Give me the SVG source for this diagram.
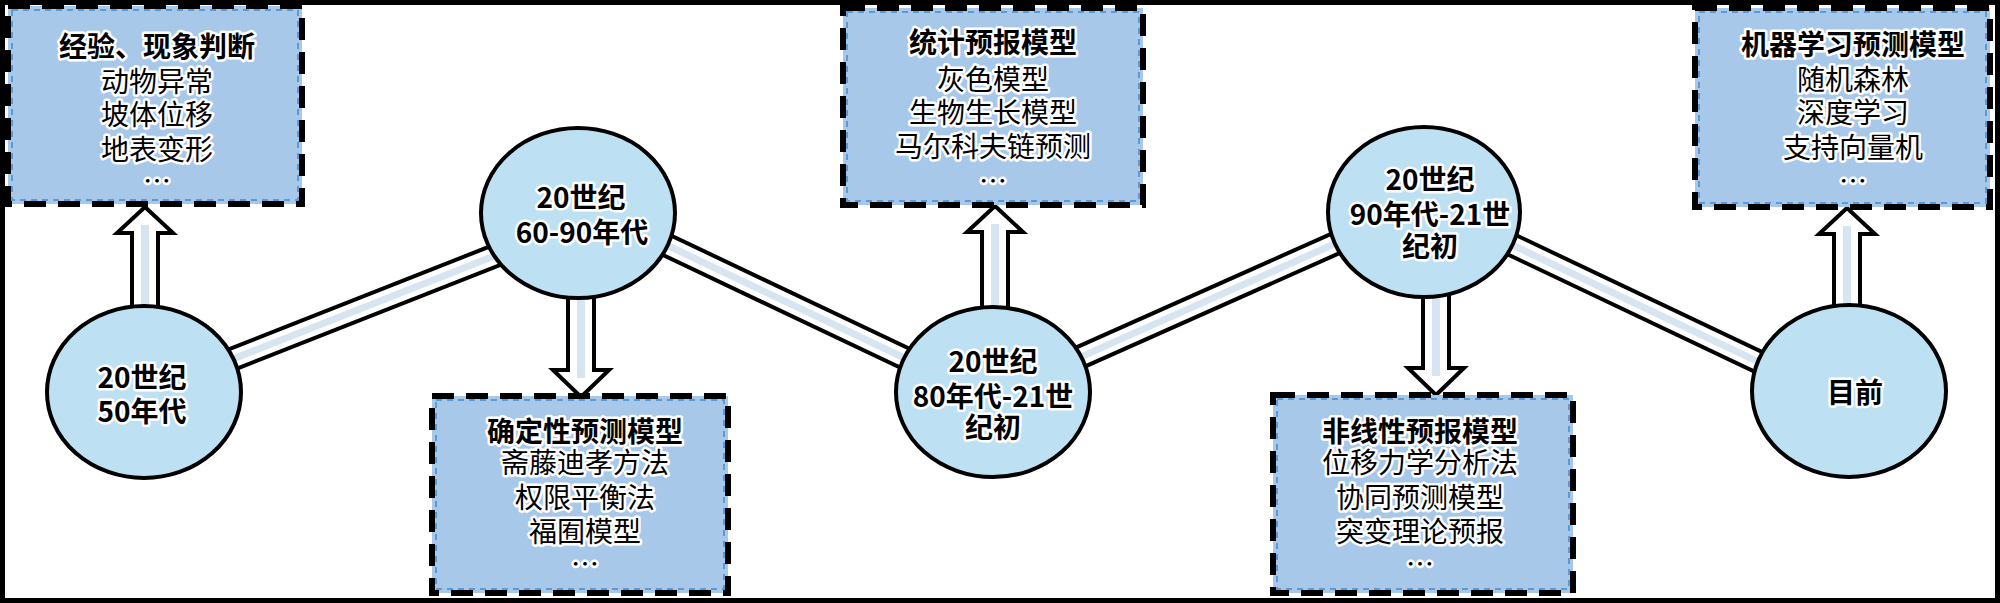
<svg xmlns="http://www.w3.org/2000/svg" width="2000" height="603" viewBox="0 0 2000 603">
<style>
.frame{fill:#fff;stroke:#000;stroke-width:5}
.boxo{fill:#a8c8e9;stroke:#000;stroke-width:6;stroke-dasharray:22 12}
.boxi{fill:none;stroke:#5b9bd5;stroke-width:2;stroke-dasharray:6 5}
.circ{fill:#bee0f3;stroke:#000;stroke-width:4}
.bo{stroke:#000;stroke-width:25;stroke-linecap:butt}
.bw{stroke:#fff;stroke-width:17;stroke-linecap:butt}
.bb{stroke:#d7e5f3;stroke-width:7;stroke-linecap:butt}
.arr{fill:#fff;stroke:#000;stroke-width:4;stroke-linejoin:miter}
.strip{fill:#d7e5f3}
text{font-family:"Noto Sans CJK SC","Noto Sans",sans-serif;font-size:28px;fill:#000;text-anchor:middle;stroke:#fff;stroke-width:5;stroke-linejoin:round;paint-order:stroke}
.t{font-weight:bold}
.c{font-weight:bold}
</style>
<rect class="frame" x="2.5" y="2.5" width="1995" height="598"/>
<g id="connectors">
<line class="bo" x1="144" y1="394" x2="578" y2="223"/>
<line class="bw" x1="144" y1="394" x2="578" y2="223"/>
<line class="bb" x1="144" y1="394" x2="578" y2="223"/>
<line class="bo" x1="578" y1="203" x2="993" y2="400"/>
<line class="bw" x1="578" y1="203" x2="993" y2="400"/>
<line class="bb" x1="578" y1="203" x2="993" y2="400"/>
<line class="bo" x1="993" y1="396" x2="1424" y2="204"/>
<line class="bw" x1="993" y1="396" x2="1424" y2="204"/>
<line class="bb" x1="993" y1="396" x2="1424" y2="204"/>
<line class="bo" x1="1424" y1="203" x2="1849" y2="405"/>
<line class="bw" x1="1424" y1="203" x2="1849" y2="405"/>
<line class="bb" x1="1424" y1="203" x2="1849" y2="405"/>
<g id="arrow1">
<polygon class="arr" points="145,207 173,233 158,233 158,312 132,312 132,233 117,233"/>
<rect class="strip" x="141" y="225" width="8" height="85"/>
</g>
<g id="arrow2">
<polygon class="arr" points="581,397 609,370 594,370 594,288 568,288 568,370 553,370"/>
<rect class="strip" x="577" y="290" width="8" height="88"/>
</g>
<g id="arrow3">
<polygon class="arr" points="995,206 1023,232 1008,232 1008,312 982,312 982,232 967,232"/>
<rect class="strip" x="991" y="224" width="8" height="86"/>
</g>
<g id="arrow4">
<polygon class="arr" points="1436,395 1464,368 1449,368 1449,288 1423,288 1423,368 1408,368"/>
<rect class="strip" x="1432" y="290" width="8" height="86"/>
</g>
<g id="arrow5">
<polygon class="arr" points="1847,208 1875,234 1860,234 1860,312 1834,312 1834,234 1819,234"/>
<rect class="strip" x="1843" y="226" width="8" height="84"/>
</g>
</g>
<g id="c1">
<ellipse class="circ" cx="144" cy="392" rx="97" ry="86"/>
<text class="c" x="142" y="388">20世纪</text>
<text class="c" x="142" y="422">50年代</text>
</g>
<g id="c2">
<ellipse class="circ" cx="578" cy="213" rx="97" ry="85"/>
<text class="c" x="581" y="208">20世纪</text>
<text class="c" x="582" y="243">60-90年代</text>
</g>
<g id="c3">
<ellipse class="circ" cx="993" cy="392" rx="97" ry="85"/>
<text class="c" x="993" y="372">20世纪</text>
<text class="c" x="993" y="407">80年代-21世</text>
<text class="c" x="993" y="438">纪初</text>
</g>
<g id="c4">
<ellipse class="circ" cx="1424" cy="212" rx="96" ry="85"/>
<text class="c" x="1430" y="190">20世纪</text>
<text class="c" x="1430" y="225">90年代-21世</text>
<text class="c" x="1430" y="257">纪初</text>
</g>
<g id="c5">
<ellipse class="circ" cx="1849" cy="391" rx="97" ry="86"/>
<text class="c" x="1855" y="403">目前</text>
</g>
<g id="b1">
<rect class="boxo" x="8" y="6" width="294" height="198"/>
<rect class="boxi" x="12" y="10" width="286" height="190"/>
<text class="t" x="157" y="57">经验、现象判断</text>
<text x="157" y="92">动物异常</text>
<text x="157" y="125">坡体位移</text>
<text x="157" y="160">地表变形</text>
<text x="157" y="192">…</text>
</g>
<g id="b2">
<rect class="boxo" x="432" y="396" width="296" height="197"/>
<rect class="boxi" x="436" y="400" width="288" height="189"/>
<text class="t" x="585" y="442">确定性预测模型</text>
<text x="585" y="473">斋藤迪孝方法</text>
<text x="585" y="508">权限平衡法</text>
<text x="585" y="542">福囿模型</text>
<text x="585" y="575">…</text>
</g>
<g id="b3">
<rect class="boxo" x="843" y="8" width="300" height="197"/>
<rect class="boxi" x="847" y="12" width="292" height="189"/>
<text class="t" x="993" y="53">统计预报模型</text>
<text x="993" y="90">灰色模型</text>
<text x="993" y="123">生物生长模型</text>
<text x="993" y="157">马尔科夫链预测</text>
<text x="993" y="192">…</text>
</g>
<g id="b4">
<rect class="boxo" x="1273" y="395" width="300" height="198"/>
<rect class="boxi" x="1277" y="399" width="292" height="190"/>
<text class="t" x="1420" y="442">非线性预报模型</text>
<text x="1420" y="473">位移力学分析法</text>
<text x="1420" y="508">协同预测模型</text>
<text x="1420" y="542">突变理论预报</text>
<text x="1420" y="575">…</text>
</g>
<g id="b5">
<rect class="boxo" x="1695" y="8" width="295" height="199"/>
<rect class="boxi" x="1699" y="12" width="287" height="191"/>
<text class="t" x="1853" y="55">机器学习预测模型</text>
<text x="1853" y="90">随机森林</text>
<text x="1853" y="123">深度学习</text>
<text x="1853" y="158">支持向量机</text>
<text x="1853" y="192">…</text>
</g>
</svg>
